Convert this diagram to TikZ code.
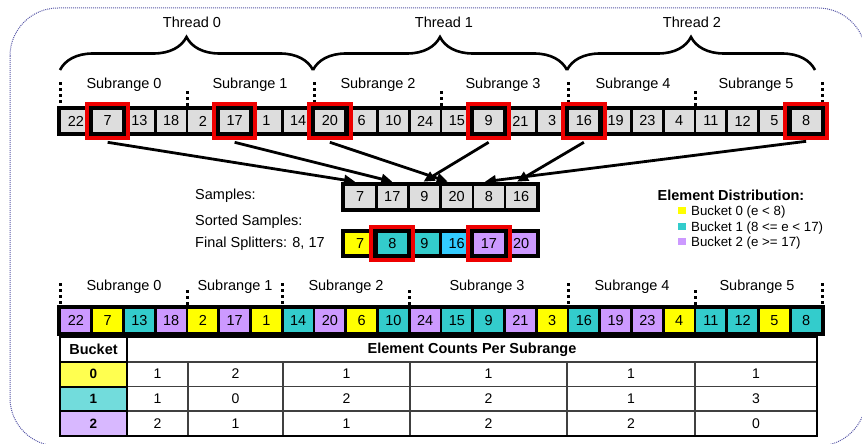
\documentclass[tikz,border=0pt]{standalone}
\usepackage{fontspec}
\setmainfont{Liberation Sans}
\usetikzlibrary{decorations.pathreplacing,arrows.meta,calc}

\definecolor{cellgray}{HTML}{DDDDDD}
\definecolor{bkyellow}{HTML}{FFFF00}
\definecolor{bkteal}{HTML}{33CCCC}
\definecolor{bkblue}{HTML}{33CCFF}
\definecolor{bklav}{HTML}{CC99FF}
\definecolor{tbyellow}{HTML}{FFFF50}
\definecolor{tbteal}{HTML}{72DCDC}
\definecolor{tblav}{HTML}{D8B8FF}
\definecolor{frameblue}{HTML}{5A5AA8}
\definecolor{splitred}{HTML}{EE0000}

\begin{document}
\begin{tikzpicture}[x=1pt,y=-1pt,
  txt/.style={font=\fontsize{14.5}{17}\selectfont, inner sep=0pt},
  smalltxt/.style={font=\fontsize{13.3}{15}\selectfont, inner sep=0pt},
  boldtxt/.style={font=\bfseries\fontsize{14.5}{17}\selectfont, inner sep=0pt},
  numtxt/.style={font=\fontsize{14}{16}\selectfont, inner sep=0pt},
  cell/.style={draw=black, line width=2.6pt, minimum width=31.75pt,
    minimum height=24pt, inner sep=0pt, font=\fontsize{14.5}{17}\selectfont},
  scell/.style={cell, minimum width=32.2pt},
  splitbox/.style={draw=splitred, line width=4pt},
  sepdots/.style={line width=3pt, dash pattern=on 3pt off 3pt},
  bracepath/.style={decorate, decoration={brace, amplitude=33pt, aspect=0.5},
    line width=2.6pt},
  pick/.style={line width=2.8pt, -{Triangle[length=11pt,width=10pt]}},
  grid/.style={line width=1.2pt, draw=black!75},
]
\useasboundingbox (0,0) rectangle (862,444);

% dotted outer frame
\draw[frameblue, line width=1pt, dash pattern=on 1pt off 1pt,
  rounded corners=48pt] (10,8) rectangle (866,446);

% ---------- thread braces ----------
\draw[bracepath] (60,70) -- (313,70);
\draw[bracepath] (313,70) -- (567,70);
\draw[bracepath] (567,70) -- (815,70);
\node[txt] (th0) at (192,22) {Thread 0};
\node[txt] (th1) at (444,22) {Thread 1};
\node[txt] (th2) at (692,22) {Thread 2};

% ---------- unsorted input ----------
\foreach \v [count=\i from 0] in {22,7,13,18,2,17,1,14,20,6,10,24,15,9,21,3,16,19,23,4,11,12,5,8}
  \node[cell, fill=cellgray] (t\i) at ({60+31.75*(\i+0.5)},121) {\v};
\draw[line width=3pt] (t0.north west) rectangle (t23.south east);

% subrange separators (long at thread borders)
\foreach \x in {60,314,568,822} \draw[sepdots] (\x,82) -- (\x,106);
\foreach \x in {187,441,695} \draw[sepdots] (\x,91) -- (\x,106);
\foreach \k/\x in {0/124,1/250,2/378,3/503,4/633,5/756}
  \node[txt] (sr\k) at (\x,85) {Subrange \k};

% sample picks
\foreach \k in {1,5,8,13,16,23}{
  \draw[line width=3.4pt] (t\k.north west) rectangle (t\k.south east);
  \draw[splitbox] ($(t\k.north west)+(-3.5,-3.5)$) rectangle ($(t\k.south east)+(3.5,3.5)$);
}

% ---------- samples ----------
\node[txt, anchor=west] (lsamp) at (195,196) {Samples:};
\foreach \v [count=\i from 0] in {7,17,9,20,8,16}
  \node[scell, fill=cellgray] (s\i) at ({344+32.2*(\i+0.5)},197) {\v};
\draw[line width=3pt] (s0.north west) rectangle (s5.south east);

\draw[pick] ($(t1.south)+(0,8)$)  -- ($(s0.north)+(-5,-2)$);
\draw[pick] ($(t5.south)+(0,8)$)  -- ($(s1.north)+(0,-2)$);
\draw[pick] ($(t8.south)+(0,8)$)  -- ($(s3.north)+(-9,-2)$);
\draw[pick] ($(t13.south)+(0,8)$) -- ($(s2.north)+(-1,-2)$);
\draw[pick] ($(t16.south)+(0,8)$) -- ($(s5.north)+(-4,-2)$);
\draw[pick] ($(t23.south)+(0,7)$) -- ($(s4.north)+(-4,-2)$);

% ---------- sorted samples / splitters ----------
\node[txt, anchor=west] (lsort) at (195,222) {Sorted Samples:};
\node[txt, anchor=west] (lsplit) at (195,244) {Final Splitters: 8, 17};
\foreach \v/\c [count=\i from 0] in {7/bkyellow,8/bkteal,9/bkteal,16/bkblue,17/bklav,20/bklav}
  \node[scell, fill=\c, minimum height=23pt] (q\i) at ({344+32.2*(\i+0.5)},243.5) {\v};
\draw[line width=3pt] (q0.north west) rectangle (q5.south east);
\foreach \k in {1,4}{
  \draw[line width=3.4pt] (q\k.north west) rectangle (q\k.south east);
  \draw[splitbox] ($(q\k.north west)+(-3.5,-3.5)$) rectangle ($(q\k.south east)+(3.5,3.5)$);
}

% ---------- legend ----------
\node[boldtxt] (lgt) at (731,195) {Element Distribution:};
\foreach \c/\t/\y [count=\i from 0] in {bkyellow/{Bucket 0 (e < 8)}/212,
    bkteal/{Bucket 1 (8 <= e < 17)}/228, bklav/{Bucket 2 (e >= 17)}/243}{
  \fill[\c] (678,\y-5) rectangle (686,\y+2);
  \node[smalltxt, anchor=west] (lg\i) at (691,\y) {\t};
}

% ---------- distributed input ----------
\foreach \v/\c [count=\i from 0] in {22/bklav,7/bkyellow,13/bkteal,18/bklav,2/bkyellow,
    17/bklav,1/bkyellow,14/bkteal,20/bklav,6/bkyellow,10/bkteal,24/bklav,15/bkteal,
    9/bkteal,21/bklav,3/bkyellow,16/bkteal,19/bklav,23/bklav,4/bkyellow,11/bkteal,
    12/bkteal,5/bkyellow,8/bkteal}
  \node[cell, fill=\c, minimum height=25pt] (b\i) at ({60+31.75*(\i+0.5)},320.5) {\v};
\draw[line width=3pt] (b0.north west) rectangle (b23.south east);

\foreach \x in {60,282,568,822} \draw[sepdots] (\x,283) -- (\x,305);
\foreach \x in {187,409,695} \draw[sepdots] (\x,290) -- (\x,305);
\foreach \k/\x in {0/124,1/235,2/346,3/487,4/632,5/757}
  \node[txt] (br\k) at (\x,287) {Subrange \k};

% ---------- count table ----------
\fill[tbyellow] (60,362) rectangle (127,386.5);
\fill[tbteal]   (60,386.5) rectangle (127,411);
\fill[tblav]    (60,411) rectangle (127,436);
\foreach \y in {362,386.5,411} \draw[grid] (60,\y) -- (817,\y);
\foreach \x in {188,283,410,567,695} \draw[grid] (\x,362) -- (\x,436);
\draw[line width=2pt] (60,362) rectangle (127,436);
\draw[line width=2pt] (60,386.5) -- (127,386.5) (60,411) -- (127,411);
\draw[line width=2pt] (127,337) -- (127,436);
\draw[line width=1.5pt] (60,337) rectangle (817,436);

\node[boldtxt] (hb) at (93.5,349.5) {Bucket};
\node[boldtxt] (hc) at (472,349.5) {Element Counts Per Subrange};
\foreach \r/\y in {0/374,1/398.5,2/423.5}
  \node[font=\bfseries\fontsize{13.5}{15}\selectfont, inner sep=0pt] (bk\r) at (93.5,\y) {\r};
\foreach \v/\x [count=\c from 0] in {1/157.5,2/235.5,1/346.5,1/488.5,1/631,1/756}
  \node[numtxt] (n0\c) at (\x,374) {\v};
\foreach \v/\x [count=\c from 0] in {1/157.5,0/235.5,2/346.5,2/488.5,1/631,3/756}
  \node[numtxt] (n1\c) at (\x,398.5) {\v};
\foreach \v/\x [count=\c from 0] in {2/157.5,1/235.5,1/346.5,2/488.5,2/631,0/756}
  \node[numtxt] (n2\c) at (\x,423.5) {\v};
\end{tikzpicture}
\end{document}
